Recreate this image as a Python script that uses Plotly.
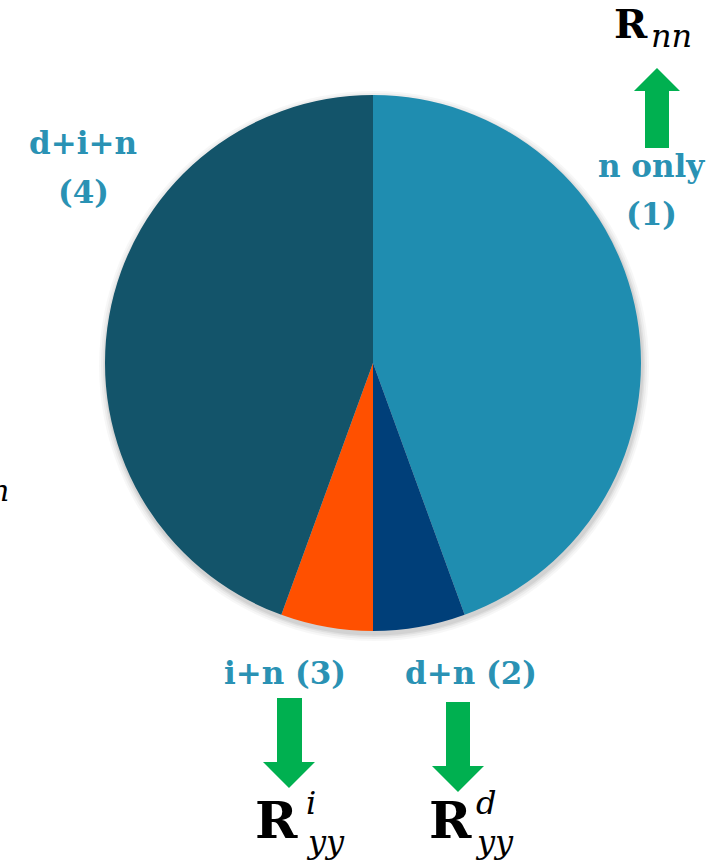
import plotly.graph_objects as go

# ---- data ----
labels = ["n only (1)", "d+n (2)", "i+n (3)", "d+i+n (4)"]
values = [8, 1, 1, 8]
colors = ["#1F8DB0", "#003F79", "#FF5000", "#13546A"]

W, H = 725, 865
def px(x): return x / W
def py(y): return 1 - y / H

cx, cy, r = 373, 363, 268

fig = go.Figure()
fig.add_trace(go.Pie(
    labels=labels, values=values, sort=False, direction="clockwise", rotation=0,
    marker=dict(colors=colors, line=dict(width=0)),
    textinfo="none", hoverinfo="label+percent", showlegend=False,
    domain=dict(x=[px(cx - r), px(cx + r)], y=[py(cy + r), py(cy - r)]),
))

shapes = []
# soft shadow
for d, op in [(7, 0.03), (5, 0.04), (3, 0.05), (1.5, 0.06)]:
    shapes.append(dict(type="circle", xref="paper", yref="paper", layer="below",
                       x0=px(cx - r - d + 1), x1=px(cx + r + d + 1),
                       y0=py(cy + r + d + 3), y1=py(cy - r - d + 3),
                       fillcolor=f"rgba(0,0,0,{op})", line=dict(width=0)))

green = "#00B050"
def block_arrow(xl, xr, hl, hr, tip_y, base_y, tail_y):
    tx = (hl + hr) / 2
    pts = [(xl, tail_y), (xl, base_y), (hl, base_y), (tx, tip_y), (hr, base_y), (xr, base_y), (xr, tail_y)]
    return "M " + " L ".join(f"{px(a):.5f},{py(b):.5f}" for a, b in pts) + " Z"

for path in [
    block_arrow(645, 669, 634, 680, 68, 91, 148),      # up arrow to R_nn
    block_arrow(277, 302, 263, 315, 788, 762, 698),    # down arrow (i+n)
    block_arrow(446, 470, 432, 484, 792, 766, 702),    # down arrow (d+n)
]:
    shapes.append(dict(type="path", xref="paper", yref="paper", path=path,
                       fillcolor=green, line=dict(width=0)))

ann = []
blue = "#2A92B4"
lab_font = dict(family="DejaVu Serif", size=31, color=blue)
def text(x, y, s, font, xanchor="center"):
    ann.append(dict(x=px(x), y=py(y), xref="paper", yref="paper", text=s, showarrow=False,
                    font=font, xanchor=xanchor, yanchor="middle"))

text(651, 166, "<b>n only</b>", lab_font)
text(651, 214, "<b>(1)</b>", lab_font)
text(83, 143, "<b>d+i+n</b>", lab_font)
text(83, 192, "<b>(4)</b>", lab_font)
text(285, 673, "<b>i+n (3)</b>", lab_font)
text(471, 673, "<b>d+n (2)</b>", lab_font)

Rtop = dict(family="DejaVu Serif", size=40, color="black")
Rbot = dict(family="DejaVu Serif", size=51, color="black")
subfont = dict(family="DejaVu Serif", size=32, color="black")
# R_nn
text(631, 23, "<b>R</b>", Rtop)
text(671, 36, "<i>nn</i>", subfont)
# R_yy^i
text(276, 820, "<b>R</b>", Rbot)
text(325, 842, "<i>yy</i>", subfont)
text(311, 803, "<i>i</i>", subfont)
# R_yy^d
text(450, 820, "<b>R</b>", Rbot)
text(494, 842, "<i>yy</i>", subfont)
text(486, 803, "<i>d</i>", subfont)
# clipped fragment at the left edge (as in the reference)
text(11, 490, "<i>n</i>", dict(family="DejaVu Serif", size=30, color="black"), xanchor="right")

fig.update_layout(width=W, height=H, autosize=False,
                  margin=dict(l=0, r=0, t=0, b=0),
                  paper_bgcolor="white", plot_bgcolor="white",
                  shapes=shapes, annotations=ann)
fig.write_html("out.html")
